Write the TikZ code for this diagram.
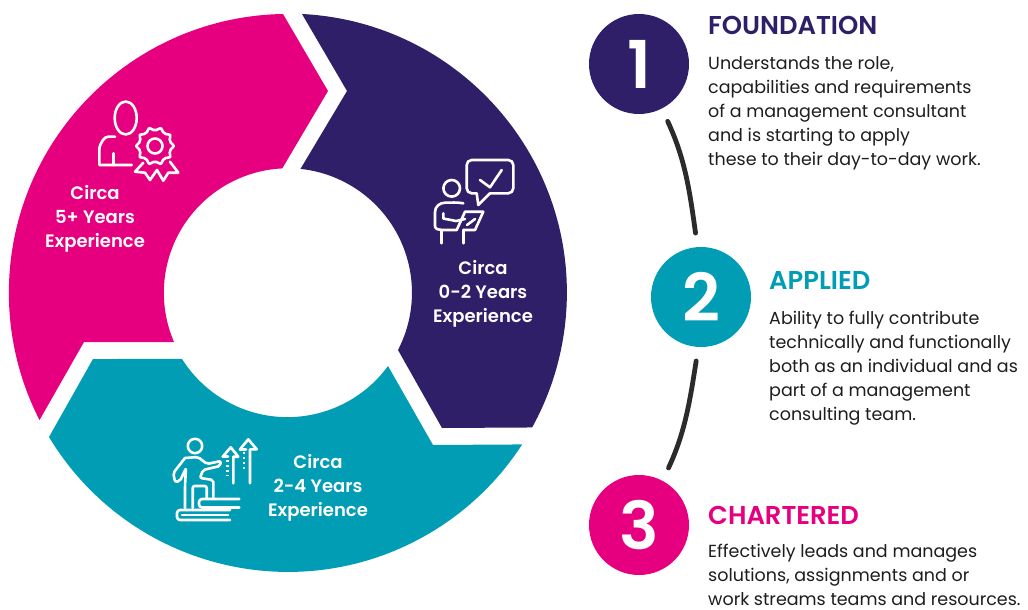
\documentclass[tikz,border=0pt]{standalone}
\usepackage{fontspec}
\setmainfont{Poppins}
\newfontfamily\semibold{Poppins SemiBold}
\definecolor{navy}{HTML}{2E1F68}
\definecolor{teal}{HTML}{019DB4}
\definecolor{magenta}{HTML}{E6007F}
\definecolor{linkgrey}{HTML}{2B2B2B}
\definecolor{bodytext}{HTML}{1D1D1B}
\tikzset{
 ringlabel/.style={text=white,font=\fontsize{18}{24.2}\semibold,align=center,inner sep=0},
 stepnum/.style={circle,minimum size=100pt,inner sep=0,text=white,font=\fontsize{66}{66}\semibold},
 stephead/.style={anchor=base west,inner sep=0,font=\fontsize{25.8}{28}\semibold},
 stepbody/.style={anchor=north west,inner sep=0,align=left,text=bodytext,font=\fontsize{17.5}{24}\selectfont},
 steplink/.style={linkgrey,line width=4.8pt,line cap=round,shorten <=14pt,shorten >=14pt},
 icon/.style={white,line width=2.6pt,line cap=round,line join=round},
}
\begin{document}
\begin{tikzpicture}[x=1pt,y=-1pt]
 \useasboundingbox (0,0) rectangle (1028,610) ;

 % ring
 \fill[magenta] (283,14) arc[start angle=91,end angle=207.1,radius=279pt] -- (84,342) -- (174,342)
   arc[start angle=203.3,end angle=92.8,radius=124.5pt] -- (328,91) -- cycle ;
 \fill[navy] (302,14) arc[start angle=87.1,end angle=-28.9,radius=279pt] -- (442,428) -- (398,350)
   arc[start angle=-27.4,end angle=84,radius=124.5pt] -- (347,91) -- cycle ;
 \fill[teal] (49,437) arc[start angle=211.1,end angle=327.1,radius=279pt] -- (433,445) -- (388,366)
   arc[start angle=323.9,end angle=212.2,radius=124.5pt] -- (93,359) -- cycle ;

 \node[ringlabel] (five) at (95,219) {Circa\\5+ Years\\Experience} ;
 \node[ringlabel] (zero) at (483,294) {Circa\\0-2 Years\\Experience} ;
 \node[ringlabel] (two) at (318,488) {Circa\\2-4 Years\\Experience} ;

 % person with rosette
 \draw[icon] (125.7,118) ellipse [x radius=11pt,y radius=16.5pt] ;
 \draw[icon] (115,136.7) to[out=180,in=60] (103,140) to[out=240,in=90] (99.3,150) -- (99.3,165) -- (131.7,165) ;
 \draw[icon] (113.3,153.3) -- (113.3,165) ;
 \draw[icon] plot[smooth cycle,domain=0:348,samples=30] ({155+(17+1.8*cos(10*\x))*cos(\x)},{146+(17+1.8*cos(10*\x))*sin(\x)}) ;
 \draw[icon] (155,146) circle (7.5pt) ;
 \draw[icon] (143.3,162.7) -- (135,171.7) -- (145,172.7) -- (150,180) -- (157,170) -- (163.3,180.7) -- (168.3,172.7) -- (178.3,172.7) -- (170,161.7) ;

 % person with speech bubble
 \draw[icon,rounded corners=5pt] (476.7,193.3) -- (466.7,193.3) -- (466.7,160) -- (513.3,160) -- (513.3,193.3) -- (490,193.3) ;
 \draw[icon] (490,193.3) -- (478.3,205) -- (476.7,193.3) ;
 \draw[icon] (480,180) -- (490,187.3) -- (501.7,170) ;
 \draw[icon] (451.7,188.3) circle (8.3pt) ;
 \draw[icon] (463.3,203.3) to[out=170,in=0] (445,202.7) to[out=180,in=90] (435,212) -- (435,226) to[out=-90,in=180] (441.7,230) -- (456.7,230) -- (465,211.7) -- (483.3,211.7) -- (475,230) -- (463.3,230) ;
 \draw[icon] (441.7,230) -- (441.7,243.3) ;
 \draw[icon] (463.3,230) -- (463.3,243.3) ;
 \draw[icon] (443.3,213.3) -- (443.3,218.5) -- (456,221) -- (465,219) ;
 \draw[icon] (467,225) -- (475,219) ;

 % person on books
 \draw[icon] (195,446) circle (7.2pt) ;
 \draw[icon,rounded corners=2pt] (185,458) -- (173.3,473) -- (175,482) -- (180,481) -- (186,468) -- (185,486) -- (185,508) ;
 \draw[icon,rounded corners=2pt] (192.7,508) -- (192.7,486) -- (206.7,486) -- (206.7,498) ;
 \draw[icon,rounded corners=2pt] (213.3,498) -- (213.3,480) -- (200,478) -- (203,470) -- (220,466) -- (221,461) -- (207,464) -- (198,457) -- (185,458) ;
 \draw[icon,rounded corners=3pt] (239.3,499) -- (199,499) -- (199,507.5) -- (239.3,507.5) ;
 \draw[icon,rounded corners=3pt] (230,510) -- (177,510) -- (177,520) -- (230,520) ;
 \draw[icon] (182,515) -- (228,515) ;
 \draw[icon] (240,449.3) -- (248.3,439.3) -- (256.7,449.3) -- (250,449.3) -- (250,483.3) ;
 \draw[icon] (246,449.3) -- (240,449.3) ;
 \draw[icon,dash pattern=on 1.5pt off 3.5pt,line cap=butt] (244,452) -- (244,472) ;
 \draw[icon] (222.7,456.7) -- (230.7,447.3) -- (238.3,456.7) -- (233.3,456.7) -- (233.3,483.3) ;
 \draw[icon] (228,456.7) -- (222.7,456.7) ;
 \draw[icon,dash pattern=on 1.5pt off 3.5pt,line cap=butt] (227.3,460) -- (227.3,476) ;

 % steps
 \node[stepnum,fill=navy] (one) at (639,64) {1} ;
 \node[stepnum,fill=teal] (twob) at (701,297) {2} ;
 \node[stepnum,fill=magenta] (three) at (639,525) {3} ;

 \draw[steplink] (one.-63) to[out=-65,in=98] (twob.94.5) ;
 \draw[steplink] (twob.-93.7) to[out=-99,in=65] (three.62) ;

 \node[stephead,text=navy] (foundation) at (708,35) {FOUNDATION} ;
 \node[stepbody] (foundtext) at (708,56.5) {Understands the role,\\capabilities and requirements\\of a management consultant\\and is starting to apply\\these to their day-to-day work.} ;
 \node[stephead,text=teal] (applied) at (769,289) {APPLIED} ;
 \node[stepbody] (appliedtext) at (769,311) {Ability to fully contribute\\technically and functionally\\both as an individual and as\\part of a management\\consulting team.} ;
 \node[stephead,text=magenta] (chartered) at (708,524) {CHARTERED} ;
 \node[stepbody] (charteredtext) at (708,544) {Effectively leads and manages\\solutions, assignments and or\\work streams teams and resources.} ;
\end{tikzpicture}
\end{document}
